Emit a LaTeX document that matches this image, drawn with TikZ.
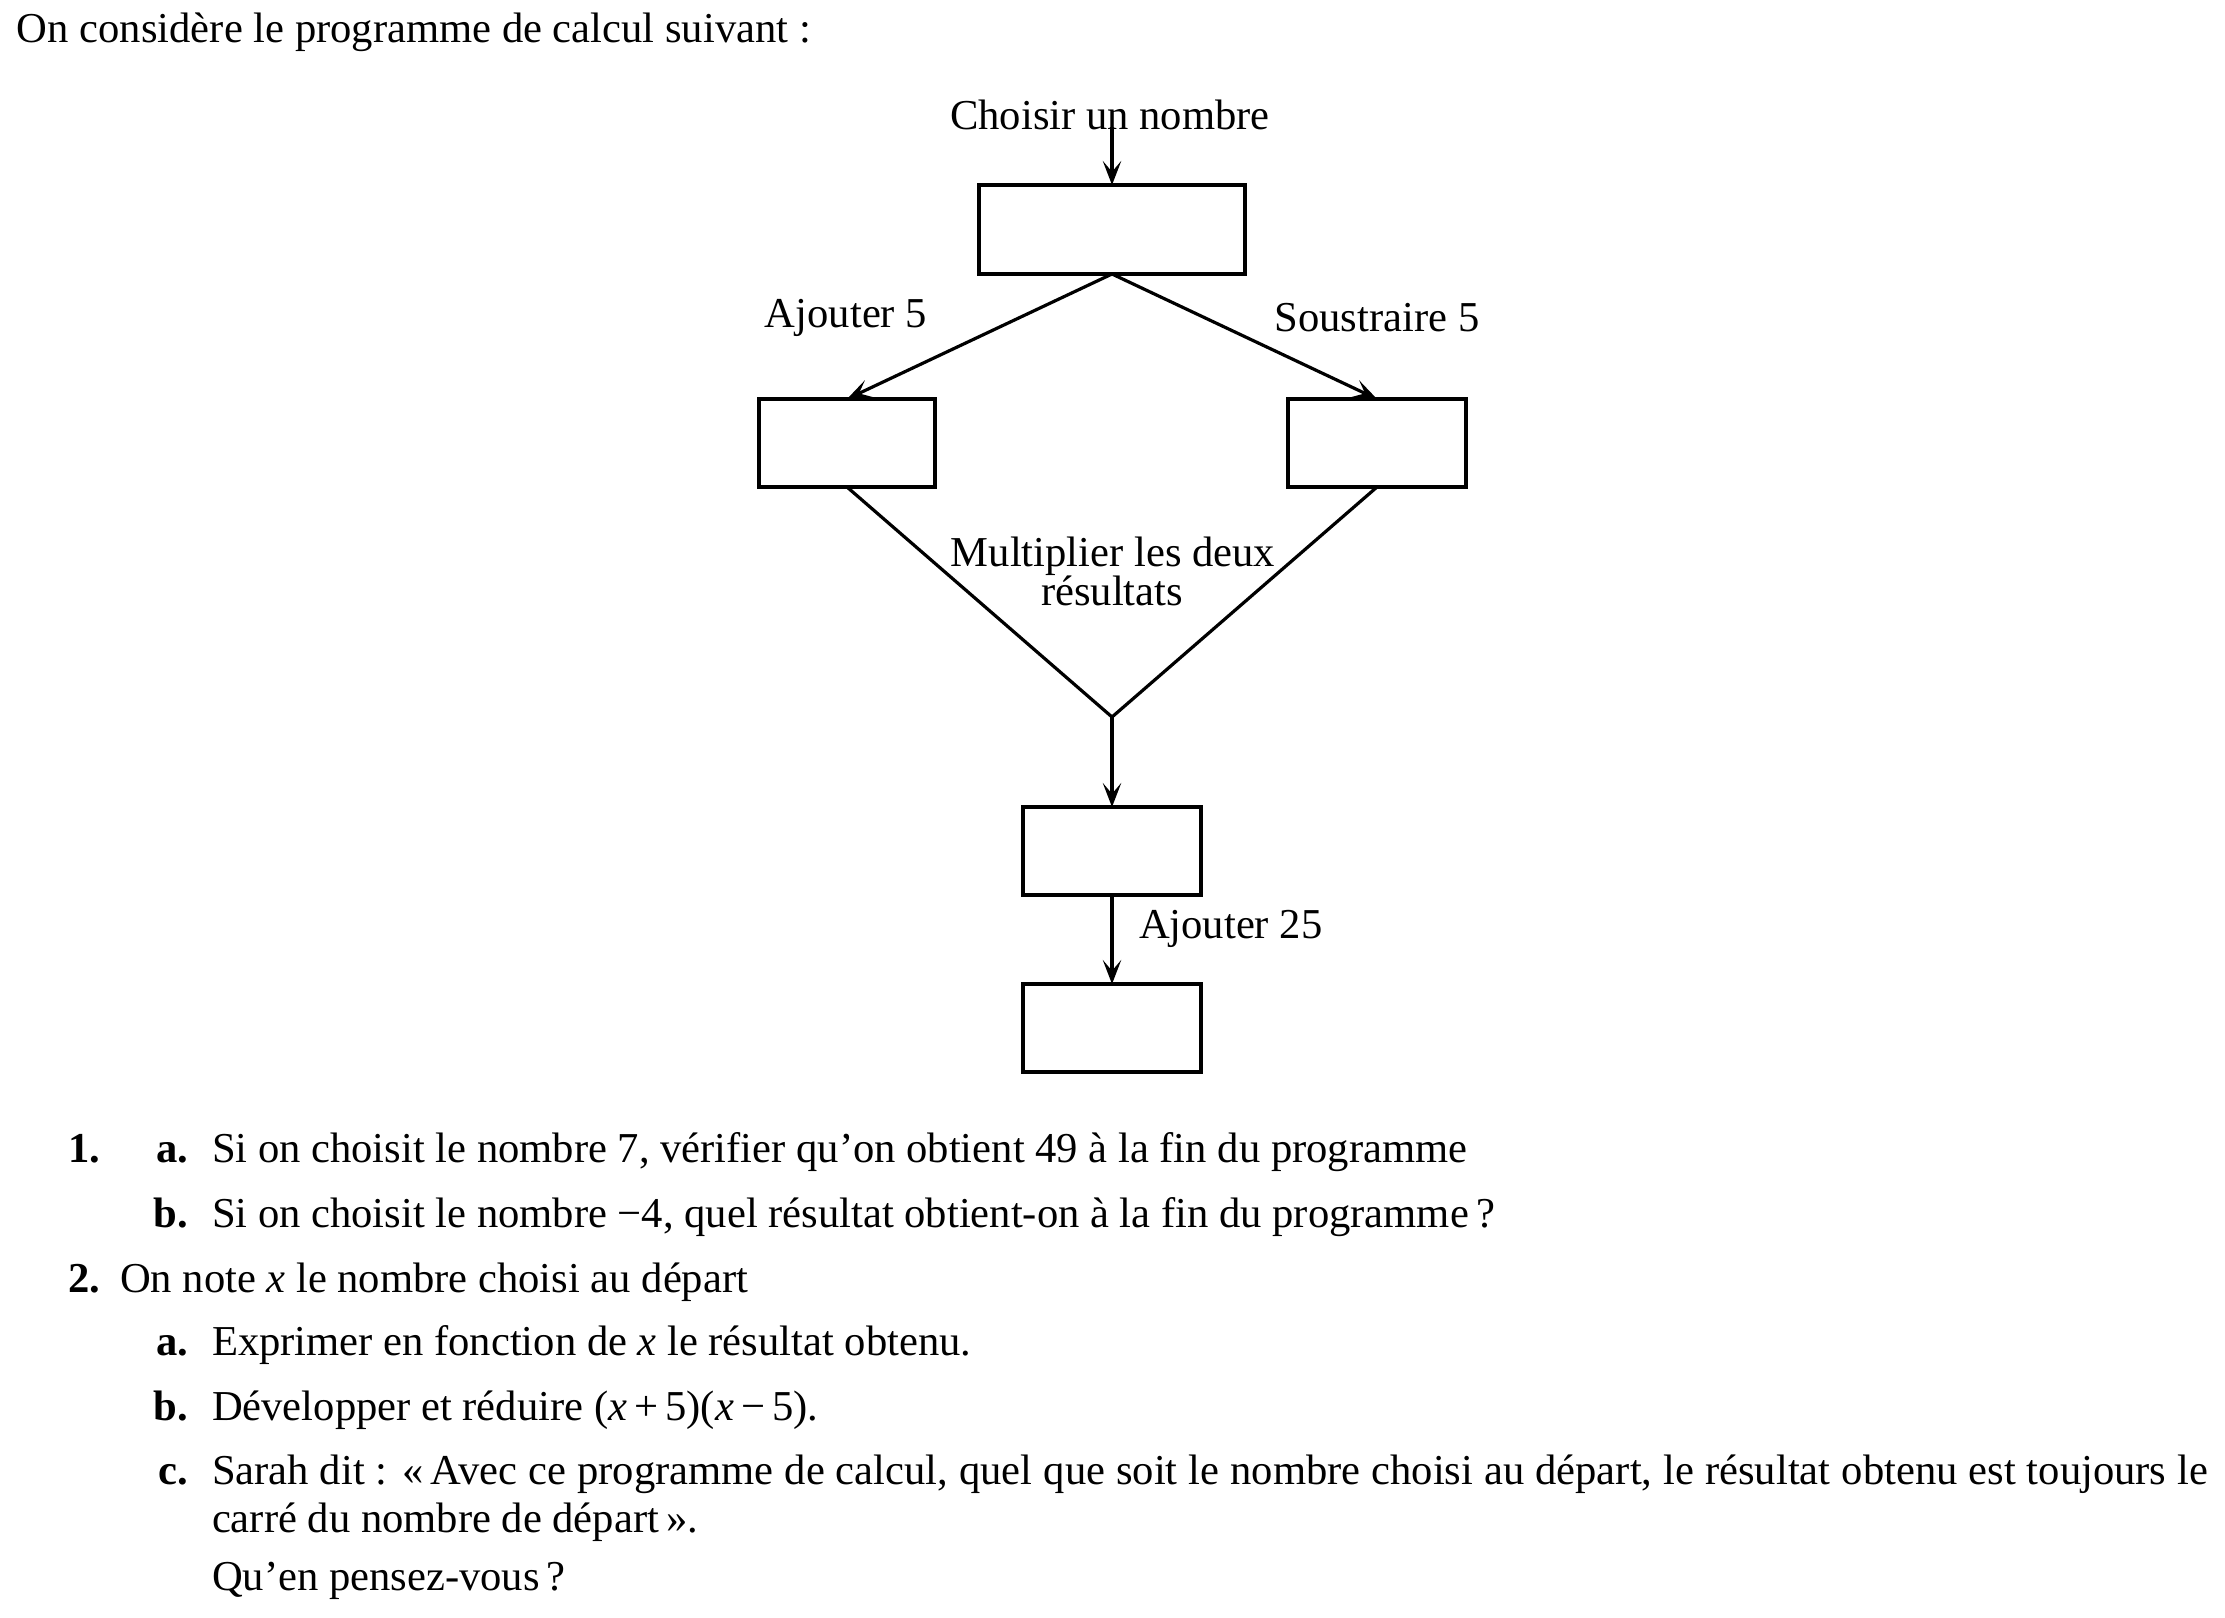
\documentclass[tikz,border=0pt]{standalone}
\usepackage{fontspec}
\setmainfont{Liberation Serif}
\usetikzlibrary{arrows.meta}
\newcommand{\tsize}{\fontsize{10.65pt}{13pt}\selectfont}
\begin{document}
\begin{tikzpicture}[x=0.25pt,y=-0.25pt,
  every node/.style={inner sep=0pt,outer sep=0pt,font=\tsize},
  pbox/.style 2 args={draw,line width=0.8pt,minimum width=#1*0.25pt,minimum height=#2*0.25pt},
  arr/.style={line width=0.8pt,-{Stealth[length=6pt,width=4.6pt,inset=2.7pt]}},
  seg/.style={line width=0.8pt},
  lbl/.style={anchor=base},
  txt/.style={anchor=base west},
  num/.style={anchor=base east,font=\tsize\bfseries},
  numw/.style={anchor=base west,font=\tsize\bfseries}]
\useasboundingbox (0,0) rectangle (2225,1617);
% title
\node[txt] (title) at (17,42) {On considère le programme de calcul suivant :};
% flowchart
\coordinate (start) at (1112,127);
\node[lbl] (choisir) at (1110,129) {Choisir un nombre};
\node[pbox={266}{89}] (b1) at (1112,229.5) {};
\node[pbox={176}{88}] (b2) at (847,443) {};
\node[pbox={178}{88}] (b3) at (1377,443) {};
\coordinate (v) at (1112,717);
\node[pbox={178}{88}] (b4) at (1112,851) {};
\node[pbox={178}{88}] (b5) at (1112,1028) {};
\draw[arr] (start) -- (b1.north);
\draw[arr] (b1.south) -- (b2.north);
\draw[arr] (b1.south) -- (b3.north);
\draw[seg] (b2.south) -- (v) -- (b3.south);
\draw[arr] (v) -- (b4.north);
\draw[arr] (b4.south) -- (b5.north);
\node[lbl] (aj5) at (846,327) {Ajouter 5};
\node[lbl] (so5) at (1377,331) {Soustraire 5};
\node[lbl] (mul1) at (1113,566) {Multiplier les deux};
\node[lbl] (mul2) at (1112,605) {résultats};
\node[txt] (aj25) at (1139,938) {Ajouter 25};
% questions
\node[numw] (n1) at (68,1162) {1.};
\node[num] (n1a) at (188,1162) {a.};
\node[txt] (t1a) at (212,1162) {Si on choisit le nombre 7, vérifier qu’on obtient 49 à la fin du programme};
\node[num] (n1b) at (188,1227) {b.};
\node[txt] (t1b) at (212,1227) {Si on choisit le nombre −4, quel résultat obtient-on à la fin du programme\,?};
\node[numw] (n2) at (68,1292) {2.};
\node[txt] (t2) at (120,1292) {On note \textit{x} le nombre choisi au départ};
\node[num] (n2a) at (188,1355) {a.};
\node[txt] (t2a) at (212,1355) {Exprimer en fonction de \textit{x} le résultat obtenu.};
\node[num] (n2b) at (188,1420) {b.};
\node[txt] (t2b) at (212,1420) {Développer et réduire (\textit{x}\,+\,5)(\textit{x}\,−\,5).};
\node[num] (n2c) at (188,1484) {c.};
\node[txt] (t2c) at (212,1484) {\hbox to 499pt{Sarah dit : «\,Avec ce programme de calcul, quel que soit le nombre choisi au départ, le résultat obtenu est toujours le}};
\node[txt] (t2c2) at (212,1532) {carré du nombre de départ\,».};
\node[txt] (t2c3) at (212,1590) {Qu’en pensez-vous\,?};
\end{tikzpicture}
\end{document}
